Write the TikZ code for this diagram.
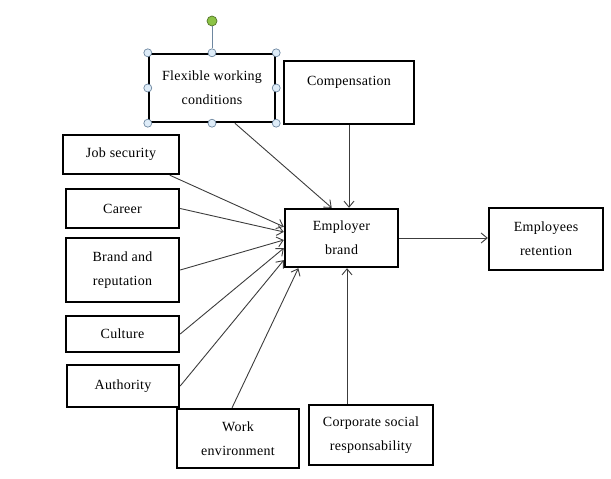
\documentclass[tikz,border=0pt]{standalone}
\usepackage{fontspec}
\setmainfont{Liberation Serif}[LetterSpace=2]
\usetikzlibrary{arrows.meta}
\definecolor{hdlblue}{RGB}{222,236,248}
\definecolor{hdledge}{RGB}{110,135,160}
\definecolor{hdlgreen}{RGB}{140,195,70}
\definecolor{linkgray}{RGB}{60,60,60}

\begin{document}
\begin{tikzpicture}[x=1pt,y=-1pt,
  factor/.style={draw,line width=2.4pt,align=center,inner sep=2pt,
    font=\fontsize{14}{24}\selectfont},
  link/.style={draw=linkgray,line width=0.9pt,-{Straight Barb[length=6pt,width=10pt]}},
  handle/.style={circle,draw=hdledge,fill=hdlblue,line width=0.7pt,inner sep=0pt,minimum size=8pt}]
  \useasboundingbox (0,0) rectangle (611,479);

  % factors
  \node[factor,minimum width=126pt,minimum height=68pt] (flex) at (212,88) {Flexible working\\conditions};
  \node[factor,minimum width=130pt,minimum height=63pt] (comp) at (349,92.5) {Compensation\\\mbox{}};
  \node[factor,minimum width=116pt,minimum height=39pt] (job) at (121,154.5) {Job security};
  \node[factor,minimum width=113pt,minimum height=39pt] (career) at (122.5,208.5) {Career};
  \node[factor,minimum width=113pt,minimum height=64pt] (brand) at (122.5,270) {Brand and\\reputation};
  \node[factor,minimum width=113pt,minimum height=36pt] (culture) at (122.5,334) {Culture};
  \node[factor,minimum width=112pt,minimum height=42pt] (auth) at (123,386) {Authority};
  \node[factor,minimum width=122pt,minimum height=59pt] (work) at (238,438.5) {Work\\environment};
  \node[factor,minimum width=124pt,minimum height=60pt] (csr) at (371,435) {Corporate social\\responsability};
  \node[factor,minimum width=113pt,minimum height=58pt] (emp) at (341.5,238) {Employer\\brand};
  \node[factor,minimum width=114pt,minimum height=62pt] (ret) at (546,239) {Employees\\retention};

  % selection handles
  \node[handle,minimum size=10pt,fill=hdlgreen,draw=hdlgreen!60!black] (rot) at (212,21) {};
  \foreach \a in {north west,north,north east,east,south east,south,south west,west}
    \node[handle] (h-\a) at (flex.\a) {};
  \draw[hdledge,line width=0.7pt] (rot) -- (h-north);

  % arrows
  \draw[link] (flex.-57) -- (emp.108);
  \draw[link] (comp.south) -- (comp.south |- emp.north);
  \draw[link] (job.-23) -- (emp.169);
  \draw[link] (career.east) -- (emp.174);
  \draw[link] (brand.east) -- (emp.182);
  \draw[link] (culture.east) -- (emp.190);
  \draw[link] (auth.east) -- (emp.201);
  \draw[link] (work.101) -- (emp.215);
  \draw[link] (csr.north -| 347,0) -- (emp.south -| 347,0);
  \draw[link] (emp.east) -- (emp.east -| ret.west);
\end{tikzpicture}
\end{document}
